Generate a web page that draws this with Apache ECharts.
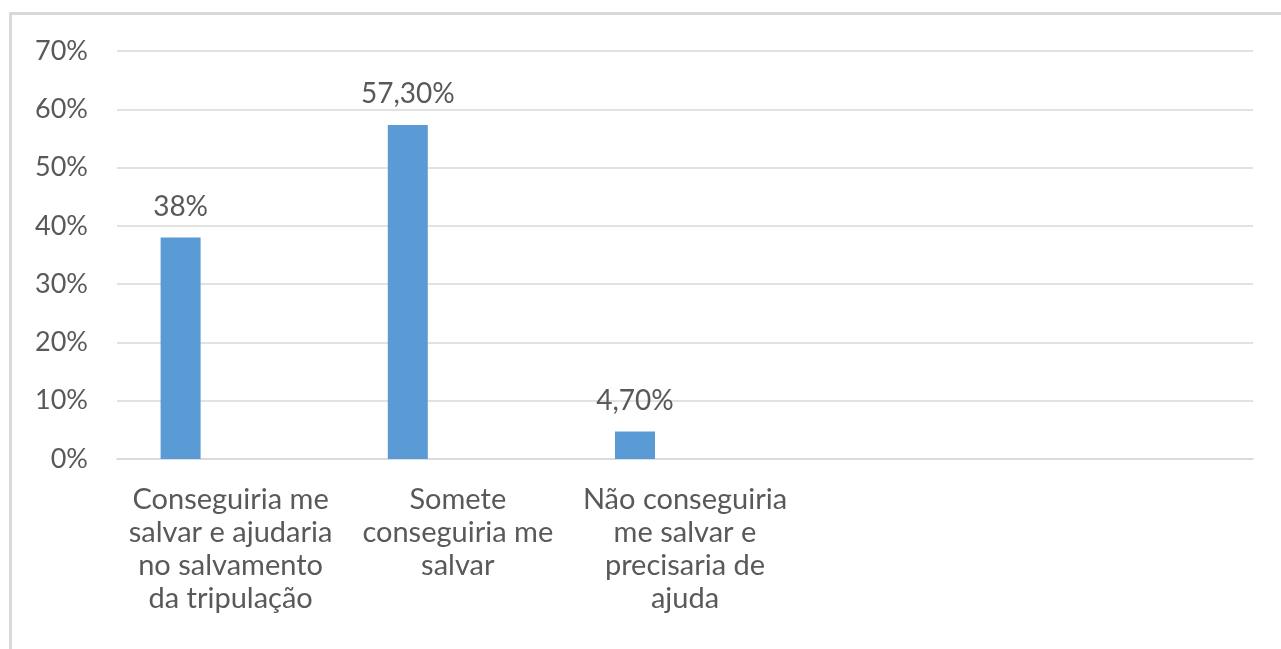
<!DOCTYPE html>
<html>
<head>
<meta charset="utf-8">
<script src="https://cdn.jsdelivr.net/npm/echarts@6/dist/echarts.min.js"></script>
<style>
html, body { margin: 0; padding: 0; background: #fff; }
#frame {
    position: absolute; left: 9px; top: 12px; width: 1300px; height: 700px;
    border-top: 3px solid #d9d9d9; border-left: 3px solid #d9d9d9;
}
#chart { position: absolute; left: 0; top: 0; width: 1281px; height: 649px; }
</style>
</head>
<body>
<div id="frame"></div>
<div id="chart"></div>
<script>
// categories (the last two are empty in the source chart)
const categories = [
    'Conseguiria me\nsalvar e ajudaria\nno salvamento\nda tripulação',
    'Somete\nconseguiria me\nsalvar',
    'Não conseguiria\nme salvar e\nprecisaria de\najuda',
    '',
    ''
];
const values = [38, 57.3, 4.7, null, null];
const valueLabels = ['38%', '57,30%', '4,70%', '', ''];
const yTicks = [0, 10, 20, 30, 40, 50, 60, 70];

const textColor = '#595959';
const fontFamily = 'Lato, "Open Sans", sans-serif';

let chart = echarts.init(document.getElementById('chart'));
chart.setOption({
    animation: false,
    grid: { left: 117, right: 28, top: 51, bottom: 190 },
    xAxis: {
        type: 'category',
        data: categories,
        axisLine: { lineStyle: { color: '#d9d9d9', width: 1.5 } },
        axisTick: { show: false },
        axisLabel: {
            interval: 0,
            margin: 24,
            color: textColor,
            fontFamily: fontFamily,
            fontSize: 29,
            lineHeight: 33,
            align: 'center'
        }
    },
    yAxis: {
        type: 'value',
        min: yTicks[0],
        max: yTicks[yTicks.length - 1],
        interval: 10,
        axisLine: { show: false },
        axisTick: { show: false },
        splitLine: { lineStyle: { color: '#d9d9d9', width: 1.5 } },
        axisLabel: {
            margin: 29,
            color: textColor,
            fontFamily: fontFamily,
            fontSize: 27,
            formatter: v => v + '%'
        }
    },
    series: [
        {
            name: 'Percentual',
            type: 'bar',
            data: values,
            barWidth: 40,
            barGap: '150%',
            itemStyle: { color: '#5b9bd5' },
            label: {
                show: true,
                position: 'top',
                distance: 17,
                color: textColor,
                fontFamily: fontFamily,
                fontSize: 28,
                formatter: p => valueLabels[p.dataIndex]
            }
        },
        {
            name: 'vazio',
            type: 'bar',
            data: categories.map(() => null),
            barWidth: 40
        }
    ]
});
</script>
</body>
</html>
